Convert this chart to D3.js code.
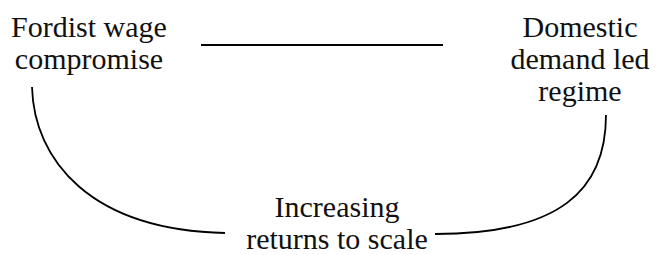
<!DOCTYPE html>
<html>
<head>
<meta charset="utf-8">
<script src="https://cdn.jsdelivr.net/npm/d3@7"></script>
<style>
  html, body { margin: 0; padding: 0; background: #fff; }
  svg { display: block; }
</style>
</head>
<body>
<svg id="chart" width="656" height="255"></svg>
<script>
// node labels, one array of lines per node
var leftLabel = ["Fordist wage", "compromise"];
var rightLabel = ["Domestic", "demand led", "regime"];
var bottomLabel = ["Increasing", "returns to scale"];

// layout
var lineGap = 32;
var layout = {
  left:   { x: 89,  y: 37 },
  right:  { x: 580, y: 37 },
  bottom: { x: 337, y: 217 }
};
var serif = "'Liberation Serif', 'DejaVu Serif', serif";

var svg = d3.select("#chart");

function addLabel(lines, pos) {
  svg.append("text")
    .attr("text-anchor", "middle")
    .style("font-family", serif)
    .style("font-size", "30px")
    .attr("fill", "#111")
    .selectAll("tspan")
    .data(lines)
    .join("tspan")
    .attr("x", pos.x)
    .attr("y", function(d, i) { return pos.y + i * lineGap; })
    .text(function(d) { return d; });
}

addLabel(leftLabel, layout.left);
addLabel(rightLabel, layout.right);
addLabel(bottomLabel, layout.bottom);

// straight link between the two upper nodes
svg.append("line")
  .attr("x1", 201).attr("y1", 45)
  .attr("x2", 443).attr("y2", 45)
  .attr("stroke", "#000")
  .attr("stroke-width", 2.2);

// curved links down to the bottom node
function curve(p0, c1, c2, p1) {
  var p = d3.path();
  p.moveTo(p0[0], p0[1]);
  p.bezierCurveTo(c1[0], c1[1], c2[0], c2[1], p1[0], p1[1]);
  return p.toString();
}

svg.append("path")
  .attr("d", curve([32, 87], [34, 160], [90, 230], [225, 233]))
  .attr("fill", "none")
  .attr("stroke", "#000")
  .attr("stroke-width", 1.8);

svg.append("path")
  .attr("d", curve([606, 115], [606, 190], [560, 234], [435, 234]))
  .attr("fill", "none")
  .attr("stroke", "#000")
  .attr("stroke-width", 1.8);
</script>
</body>
</html>
